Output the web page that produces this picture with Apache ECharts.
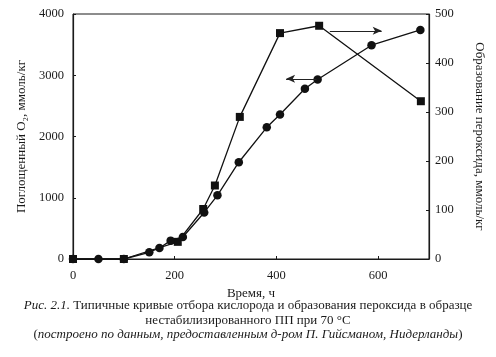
<!DOCTYPE html>
<html><head><meta charset="utf-8">
<script src="https://cdn.jsdelivr.net/npm/echarts@6/dist/echarts.min.js"></script>
<style>html,body{margin:0;padding:0;background:#fff}#c{width:496px;height:357px}</style>
</head><body><div id="c"></div>
<script>
// Oxygen uptake (left axis), circles
const timeO2 = [0, 50, 100, 150, 170, 192, 216, 258, 284, 326, 381, 407, 456, 481, 587, 683];
const o2Values = [0, 0, 0, 110, 180, 300, 360, 760, 1040, 1580, 2150, 2360, 2780, 2930, 3490, 3740];
// Peroxide formation (right axis), squares
const timePer = [0, 100, 206, 256, 279, 328, 407, 484, 684];
const perValues = [0, 0, 35, 102, 150, 290, 461, 476, 322];
// Annotation arrows (data coords on left axis)
const arrowRight = [[505, 3725], [607, 3725]];
const arrowLeft = [[479, 2941], [419, 2941]];

const F = 'Liberation Serif, Times New Roman, serif';
const chart = echarts.init(document.getElementById('c'));
const plain = v => String(v);
const axisCommon = {
  axisLine: {show: true, lineStyle: {color: '#1a1a1a', width: 1.2}},
  axisTick: {show: true, inside: true, length: 3, lineStyle: {color: '#1a1a1a'}},
  splitLine: {show: false},
  axisLabel: {color: '#1a1a1a', fontFamily: F, fontSize: 12.5, formatter: plain},
  nameTextStyle: {color: '#1a1a1a', fontFamily: F, fontSize: 13}
};
chart.setOption({
  animation: false,
  backgroundColor: '#fff',
  grid: {left: 73, right: 67, top: 14, bottom: 98, show: true, borderColor: '#1a1a1a', borderWidth: 1},
  xAxis: Object.assign({}, axisCommon, {
    type: 'value', min: 0, max: 700, interval: 200,
    name: 'Время, ч', nameLocation: 'middle', nameGap: 25,
    axisLabel: Object.assign({}, axisCommon.axisLabel, {margin: 10, showMaxLabel: false})
  }),
  yAxis: [
    Object.assign({}, axisCommon, {
      type: 'value', min: 0, max: 4000, interval: 1000, position: 'left',
      name: 'Поглощенный O₂, ммоль/кг', nameLocation: 'middle', nameGap: 41,
      axisLabel: Object.assign({}, axisCommon.axisLabel, {margin: 9})
    }),
    Object.assign({}, axisCommon, {
      type: 'value', min: 0, max: 500, interval: 100, position: 'right',
      name: 'Образование пероксида, ммоль/кг', nameLocation: 'middle', nameGap: 44, nameRotate: -90,
      axisLabel: Object.assign({}, axisCommon.axisLabel, {margin: 6})
    })
  ],
  series: [
    {
      type: 'line', yAxisIndex: 0,
      data: timeO2.map((t, i) => [t, o2Values[i]]),
      symbol: 'circle', symbolSize: 8.5,
      lineStyle: {color: '#111', width: 1.3},
      itemStyle: {color: '#111'},
      z: 3,
      markLine: {
        silent: true, symbol: ['none', 'arrow'], symbolSize: [6, 9],
        label: {show: false},
        lineStyle: {color: '#222', width: 1, type: 'solid'},
        data: [
          [{coord: arrowRight[0]}, {coord: arrowRight[1]}],
          [{coord: arrowLeft[0]}, {coord: arrowLeft[1]}]
        ]
      }
    },
    {
      type: 'line', yAxisIndex: 1,
      data: timePer.map((t, i) => [t, perValues[i]]),
      symbol: 'rect', symbolSize: 8,
      lineStyle: {color: '#111', width: 1.3},
      itemStyle: {color: '#111'},
      z: 2
    }
  ],
  graphic: [
    {type: 'text', left: 'center', top: 299, style: {
      text: '{i|Рис. 2.1.} Типичные кривые отбора кислорода и образования пероксида в образце',
      fill: '#1a1a1a', font: '13px ' + F,
      rich: {i: {fontStyle: 'italic', fontFamily: F, fontSize: 13, fill: '#1a1a1a'}}
    }},
    {type: 'text', left: 'center', top: 314, style: {
      text: 'нестабилизированного ПП при 70 °C',
      fill: '#1a1a1a', font: '13px ' + F
    }},
    {type: 'text', left: 'center', top: 328, style: {
      text: '({i|построено по данным, предоставленным д-ром П. Гийсманом, Нидерланды})',
      fill: '#1a1a1a', font: '13px ' + F,
      rich: {i: {fontStyle: 'italic', fontFamily: F, fontSize: 13, fill: '#1a1a1a'}}
    }}
  ]
});
</script></body></html>
